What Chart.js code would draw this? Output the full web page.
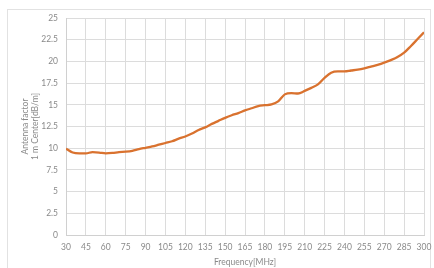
<!DOCTYPE html>
<html>
<head>
<meta charset="utf-8">
<script src="https://cdn.jsdelivr.net/npm/chart.js@4.4.1/dist/chart.umd.min.js"></script>
<style>
  html, body { margin: 0; padding: 0; background: #fff; }
  #wrap { width: 434px; height: 268px; }
</style>
</head>
<body>
<div id="wrap"><canvas id="myChart" width="434" height="268"></canvas></div>
<script>
// frequency [MHz]
const freqs = [30, 35, 40, 45, 50, 55, 60, 65, 70, 75, 80, 85, 90, 95, 100, 105, 110, 115, 120, 125,
    130, 135, 140, 145, 150, 155, 160, 165, 170, 175, 180, 185, 190, 195, 200, 205, 210, 215, 220, 225,
    230, 235, 240, 245, 250, 255, 260, 265, 270, 275, 280, 285, 290, 295, 300];
// antenna factor [dB/m]
const factors = [9.95, 9.5, 9.4, 9.4, 9.55, 9.5, 9.4, 9.45, 9.55, 9.6, 9.7, 9.9, 10.05, 10.2, 10.4, 10.6, 10.8, 11.1, 11.35, 11.7,
    12.1, 12.4, 12.8, 13.15, 13.5, 13.8, 14.05, 14.35, 14.6, 14.85, 14.95, 15.05, 15.4, 16.2, 16.35, 16.3, 16.6, 16.95, 17.35, 18.1,
    18.7, 18.85, 18.85, 18.95, 19.05, 19.2, 19.4, 19.6, 19.85, 20.15, 20.5, 21.0, 21.75, 22.55, 23.35];

const xTitle = 'Frequency[MHz]';
const yTitle = ['Antenna factor', '1 m Center[dB/m]'];

const points = freqs.map((f, i) => ({ x: f, y: factors[i] }));

const frame = {
    id: 'frame',
    beforeDraw(c) {
        const g = c.ctx;
        g.save();
        g.strokeStyle = '#e2e2e2';
        g.lineWidth = 1;
        g.strokeRect(7.5, 9.5, 423, 270);
        g.restore();
    }
};

const font = { family: 'Lato', size: 8.5 };

const ctx = document.getElementById('myChart');
const chart = new Chart(ctx, {
    type: 'line',
    data: {
        datasets: [{
            data: points,
            borderColor: '#d9722f',
            borderWidth: 2.3,
            pointRadius: 0,
            cubicInterpolationMode: 'monotone'
        }]
    },
    options: {
        responsive: false,
        animation: false,
        layout: { padding: { top: 18, right: 10, left: 0, bottom: 0 } },
        plugins: { legend: { display: false }, tooltip: { enabled: false } },
        scales: {
            x: {
                type: 'linear',
                min: 30,
                max: 300,
                afterFit: (s) => { s.height = 33; s.paddingLeft = 0; s.paddingRight = 0; },
                ticks: { stepSize: 15, padding: 7, color: '#8a8a8a', font: font, maxRotation: 0 },
                grid: { color: '#dcdcdc', drawTicks: false },
                border: { color: '#d0d0d0' },
                title: { display: true, text: xTitle, color: '#8a8a8a', font: font, padding: { top: 0, bottom: 1 } }
            },
            y: {
                min: 0,
                max: 25,
                afterFit: (s) => { s.width = 66; s.paddingTop = 0; s.paddingBottom = 0; },
                ticks: { stepSize: 2.5, padding: 8, color: '#8a8a8a', font: font },
                grid: { color: '#dcdcdc', drawTicks: false },
                border: { color: '#d0d0d0' },
                title: { display: true, text: yTitle, color: '#8a8a8a', font: { family: 'Lato', size: 8.5, lineHeight: 1.2 }, padding: { top: 20, bottom: 0 } }
            }
        }
    },
    plugins: [frame]
});
</script>
</body>
</html>
